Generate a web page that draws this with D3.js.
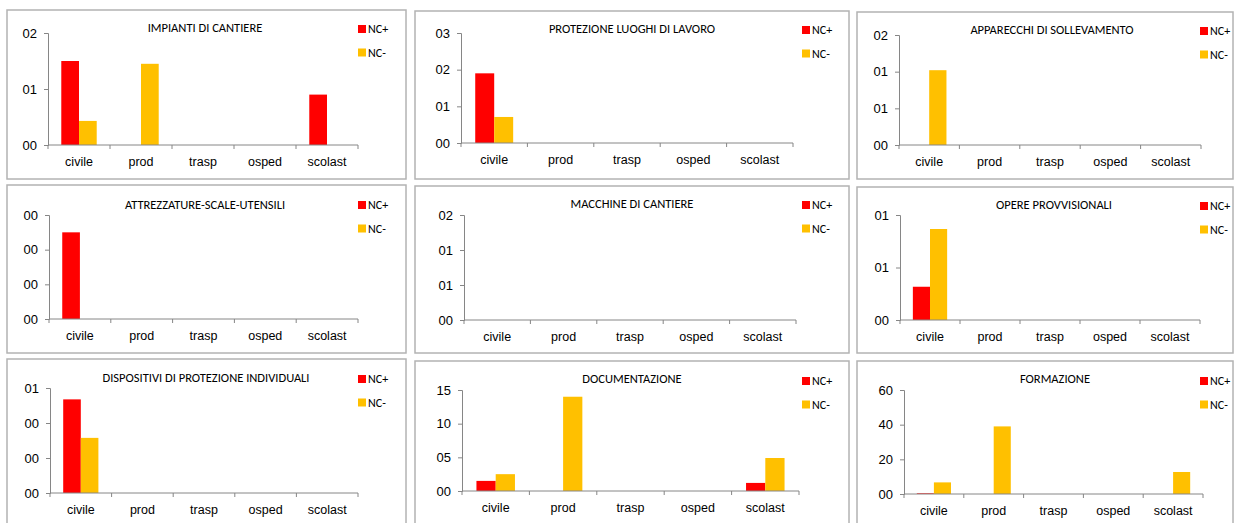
<!DOCTYPE html>
<html>
<head>
<meta charset="utf-8">
<script src="https://cdn.jsdelivr.net/npm/d3@7"></script>
<style>
  body { margin: 0; background: #fff; }
  svg { display: block; font-family: Carlito, Lato, "Open Sans", sans-serif; }
</style>
</head>
<body>
<svg id="chart" width="1236" height="523"></svg>
<script>
// data
var categories = ["civile", "prod", "trasp", "osped", "scolast"];
var series = ["NC+", "NC-"];
var colors = ["#ff0000", "#ffc000"];

var titles = [
  "IMPIANTI DI CANTIERE", "PROTEZIONE LUOGHI DI LAVORO", "APPARECCHI DI SOLLEVAMENTO",
  "ATTREZZATURE-SCALE-UTENSILI", "MACCHINE DI CANTIERE", "OPERE PROVVISIONALI",
  "DISPOSITIVI DI PROTEZIONE INDIVIDUALI", "DOCUMENTAZIONE", "FORMAZIONE"
];

var ncPlus = [
  [0.15, 0, 0, 0, 0.09],
  [0.19, 0, 0, 0, 0],
  [0, 0, 0, 0, 0],
  [0.0025, 0, 0, 0, 0],
  [0, 0, 0, 0, 0],
  [0.038, 0, 0, 0, 0],
  [0.0107, 0, 0, 0, 0],
  [0.015, 0, 0, 0, 0.012],
  [0.004, 0, 0, 0, 0]
];
var ncMinus = [
  [0.043, 0.145, 0, 0, 0],
  [0.071, 0, 0, 0, 0],
  [0.102, 0, 0, 0, 0],
  [0, 0, 0, 0, 0],
  [0, 0, 0, 0, 0],
  [0.104, 0, 0, 0, 0],
  [0.0063, 0, 0, 0, 0],
  [0.025, 0.14, 0, 0, 0.049],
  [0.067, 0.39, 0, 0, 0.127]
];

var yTicks = [
  [0, 0.1, 0.2],
  [0, 0.1, 0.2, 0.3],
  [0, 0.05, 0.1, 0.15],
  [0, 0.001, 0.002, 0.003],
  [0, 0.05, 0.1, 0.15],
  [0, 0.06, 0.12],
  [0, 0.004, 0.008, 0.012],
  [0, 0.05, 0.1, 0.15],
  [0, 0.2, 0.4, 0.6]
];
var yTickLabels = [
  ["00", "01", "02"],
  ["00", "01", "02", "03"],
  ["00", "01", "01", "02"],
  ["00", "00", "00", "00"],
  ["00", "01", "01", "02"],
  ["00", "01", "01"],
  ["00", "00", "00", "01"],
  ["00", "05", "10", "15"],
  ["00", "20", "40", "60"]
];

// layout of each panel: frame, plot area, title, legend
var layout = [
  {box: [7, 10, 406, 179],   plot: [48, 358, 33, 145],   title: [205, 32],   leg: [358, 25]},
  {box: [415, 11, 849, 179], plot: [461, 793, 33, 143],  title: [632, 33],   leg: [802, 26]},
  {box: [857, 12, 1233, 179],plot: [899, 1201, 35, 145], title: [1052, 34],  leg: [1200, 27]},
  {box: [7, 185, 406, 353],  plot: [49, 358, 215, 319],  title: [205, 209],  leg: [358, 201]},
  {box: [415, 186, 849, 353],plot: [464, 796, 215, 320], title: [632, 208],  leg: [802, 201]},
  {box: [857, 187, 1233, 353],plot: [900, 1200, 215, 320],title: [1054, 209], leg: [1200, 202]},
  {box: [7, 359, 406, 530],  plot: [50, 358, 388, 493],  title: [206, 382],  leg: [358, 375]},
  {box: [415, 361, 849, 530],plot: [462, 799, 390, 491], title: [632, 383],  leg: [802, 377]},
  {box: [857, 361, 1233, 530],plot: [904, 1203, 390, 494],title: [1055, 383], leg: [1200, 377]}
];

var svg = d3.select("#chart");

titles.forEach(function(title, k) {
  var L = layout[k];
  var g = svg.append("g");

  // frame
  g.append("rect")
      .attr("x", L.box[0]).attr("y", L.box[1])
      .attr("width", L.box[2] - L.box[0]).attr("height", L.box[3] - L.box[1])
      .attr("fill", "#fff").attr("stroke", "#b3b3b3").attr("stroke-width", 1.5);

  var x = d3.scaleBand()
      .domain(categories)
      .range([L.plot[0], L.plot[1]]);
  var step = x.bandwidth();
  var x1 = d3.scaleBand()
      .domain(series)
      .range([step * 0.2143, step * 0.7857]);
  var y = d3.scaleLinear()
      .domain([0, d3.max(yTicks[k])])
      .range([L.plot[3], L.plot[2]]);

  // bars
  var rows = categories.map(function(c, i) {
    return {cat: c, vals: [ncPlus[k][i], ncMinus[k][i]]};
  });
  var grp = g.selectAll("g.cat")
      .data(rows)
    .enter().append("g")
      .attr("class", "cat")
      .attr("transform", function(d) { return "translate(" + x(d.cat) + ",0)"; });
  grp.selectAll("rect")
      .data(function(d) { return d.vals; })
    .enter().append("rect")
      .attr("x", function(d, i) { return x1(series[i]); })
      .attr("width", x1.bandwidth())
      .attr("y", function(d) { return y(d); })
      .attr("height", function(d) { return y(0) - y(d); })
      .attr("fill", function(d, i) { return colors[i]; });

  // y axis
  var ya = g.append("g")
      .attr("transform", "translate(" + L.plot[0] + ",0)")
      .call(d3.axisLeft(y)
        .tickValues(yTicks[k])
        .tickFormat(function(d, i) { return yTickLabels[k][i]; })
        .tickSize(4)
        .tickPadding(7));
  ya.selectAll("path, line").attr("stroke", "#868686");
  ya.selectAll("text").attr("font-size", 13).attr("fill", "#000");

  // x axis
  var xa = g.append("g")
      .attr("transform", "translate(0," + L.plot[3] + ")")
      .call(d3.axisBottom(x).tickSize(0).tickPadding(12));
  xa.select(".domain").remove();
  xa.selectAll("text").attr("font-size", 12.5).attr("fill", "#000");
  g.append("line")
      .attr("x1", L.plot[0]).attr("x2", L.plot[1])
      .attr("y1", L.plot[3]).attr("y2", L.plot[3])
      .attr("stroke", "#868686");
  g.selectAll("line.sep")
      .data(categories.concat(["end"]))
    .enter().append("line")
      .attr("class", "sep")
      .attr("x1", function(d, i) { return L.plot[0] + i * step; })
      .attr("x2", function(d, i) { return L.plot[0] + i * step; })
      .attr("y1", L.plot[3]).attr("y2", L.plot[3] + 4)
      .attr("stroke", "#868686");

  // title
  g.append("text")
      .attr("x", L.title[0]).attr("y", L.title[1])
      .attr("text-anchor", "middle")
      .attr("font-size", 12.5)
      .text(title);

  // legend
  var leg = g.selectAll("g.leg")
      .data(series)
    .enter().append("g")
      .attr("class", "leg")
      .attr("transform", function(d, i) { return "translate(" + L.leg[0] + "," + (L.leg[1] + i * 23.5) + ")"; });
  leg.append("rect")
      .attr("width", 8).attr("height", 8)
      .attr("fill", function(d, i) { return colors[i]; });
  leg.append("text")
      .attr("x", 10).attr("y", 8)
      .attr("font-size", 12)
      .text(function(d) { return d; });
});
</script>
</body>
</html>
